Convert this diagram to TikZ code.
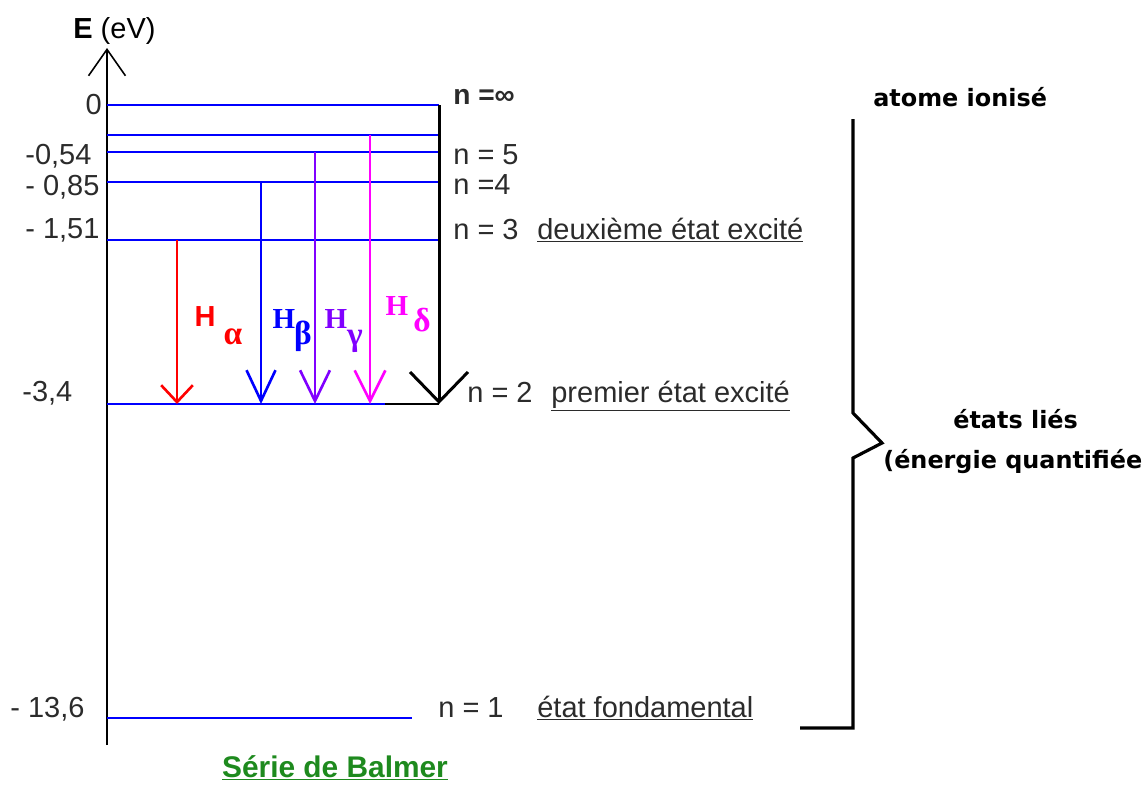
\documentclass[tikz,border=0pt]{standalone}
\usepackage{fontspec}
\setmainfont{Liberation Sans}
\newfontfamily\serifH{Liberation Serif}
\newfontfamily\verd{DejaVu Sans}
\usetikzlibrary{arrows.meta}
\definecolor{balred}{HTML}{FF0000}
\definecolor{balblue}{HTML}{0000FF}
\definecolor{balpurple}{HTML}{8000FF}
\definecolor{balmag}{HTML}{FF00FF}
\definecolor{balgreen}{HTML}{1E8A1E}
\definecolor{labgrey}{HTML}{2B2B2B}

\begin{document}
\begin{tikzpicture}[x=0.02cm,y=-0.02cm,
      lvl/.style={balblue,line width=0.85pt},
      lab/.style={anchor=base west,inner sep=0pt,text=labgrey,font=\fontsize{16.5}{18}\selectfont},
      side/.style={anchor=base west,inner sep=0pt,text=black,font=\verd\bfseries\fontsize{13.6}{15}\selectfont},
      hname/.style={inner sep=0pt,font=\bfseries\fontsize{16.5}{18}\selectfont},
      greek/.style={inner sep=0pt,font=\serifH\bfseries\fontsize{19}{20}\selectfont}]
    \useasboundingbox (0,0) rectangle (1145,785);
    % energy axis
    \coordinate (O) at (107,745);
    \coordinate (Etop) at (107,48);
    \draw[line width=0.9pt,-{Straight Barb[length=15pt,width=21pt]}] (O) -- (Etop);
    \node[lab,text=black] (ev) at (73,38) {\textbf{E} (eV)};
    % levels
    \foreach \n/\y in {inf/105,6/135,5/152,4/182,3/240} {
      \coordinate (l\n) at (107,\y); \coordinate (r\n) at (439,\y);
      \draw[lvl] (l\n) -- (r\n);
    }
    \coordinate (l2) at (107,404); \coordinate (m2) at (385,404); \coordinate (r2) at (439,404);
    \draw[lvl] (l2) -- (m2);
    \draw[line width=1pt] (m2) -- (r2);
    \coordinate (l1) at (107,718); \coordinate (r1) at (412,718);
    \draw[lvl] (l1) -- (r1);
    % ionisation limit down to n=2
    \draw[line width=1.7pt,-{Straight Barb[length=17pt,width=33pt]}] (rinf) -- (r2);
    % Balmer lines
    \foreach \c/\x/\y/\len/\wid in {balred/177/240/9.6/18, balblue/261/182/17.5/16.5,
        balpurple/315/152/17.5/17, balmag/370/135/17.5/17.5} {
      \coordinate (s\c) at (\x,\y); \coordinate (e\c) at (\x,404);
      \draw[\c,line width=1.5pt,-{Straight Barb[length=\len pt,width=\wid pt]}] (s\c) -- (e\c);
    }
    \foreach \c/\hx/\hy/\gx/\gy/\g/\hf in {balred/205/317/233/337/α/\rmfamily,
        balblue/284/319/303/336/β/\serifH, balpurple/336/319/355/341/γ/\serifH,
        balmag/397/306/422/320/δ/\serifH} {
      \node[hname,text=\c] (h\c) at (\hx,\hy) {\hf H};
      \node[greek,text=\c] (g\c) at (\gx,\gy) {\g};
    }
    % values
    \node[lab,anchor=base east] (v0) at (102,114) {0};
    \node[lab] (v5) at (25,164) {-0,54};
    \node[lab] (v4) at (25,195) {- 0,85};
    \node[lab] (v3) at (25,238) {- 1,51};
    \node[lab] (v2) at (22,401) {-3,4};
    \node[lab] (v1) at (10,717) {- 13,6};
    % quantum numbers
    \node[lab,font=\bfseries\fontsize{16}{18}\selectfont] (ninf) at (453,104) {n =∞};
    \node[lab] (n5) at (453,164) {n = 5};
    \node[lab] (n4) at (453,194) {n =4};
    \node[lab] (n3) at (453,239) {n = 3};
    \node[lab] (d3) at (537,239) {\underline{deuxième état excité}};
    \node[lab] (n2) at (467,402) {n = 2};
    \node[lab] (d2) at (551,402) {\underline{premier état excité}};
    \node[lab] (n1) at (438,717) {n = 1};
    \node[lab] (d1) at (537,717) {\underline{état fondamental}};
    % brace
    \coordinate (b1) at (853,119); \coordinate (b2) at (853,413); \coordinate (b3) at (882,443);
    \coordinate (b4) at (853,458); \coordinate (b5) at (853,728); \coordinate (b6) at (800,728);
    \draw[line width=1.8pt,line join=miter] (b1) -- (b2) -- (b3) -- (b4) -- (b5) -- (b6);
    \node[side] (ion) at (873,106) {atome ionisé};
    \node[side] (lies) at (953,428) {états liés};
    \node[side] (quant) at (883,468) {(énergie quantifiée};
    \node[anchor=base,inner sep=0pt,text=balgreen,font=\bfseries\fontsize{17}{19}\selectfont] (serie) at (335,777) {\underline{Série de Balmer}};
  \end{tikzpicture}
\end{document}
